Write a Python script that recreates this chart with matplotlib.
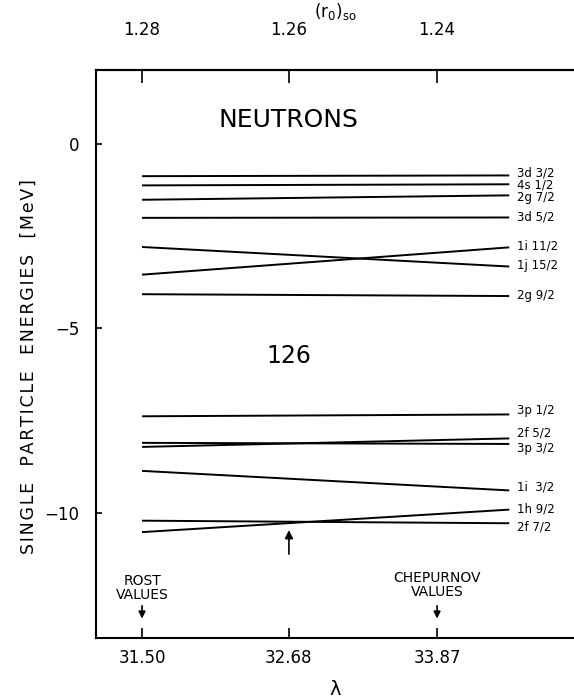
import matplotlib
matplotlib.use("Agg")
import matplotlib.pyplot as plt

# lambda axis (bottom) and matching (r0)so values (top)
lam_ticks = [31.50, 32.68, 33.87]
lam_labels = ['31.50', '32.68', '33.87']
r0_labels = ['1.28', '1.26', '1.24']

# level energies (MeV) at the left (lambda = 31.50) and right end of each line
levels = ['3d 3/2', '4s 1/2', '2g 7/2', '3d 5/2', '1i 11/2', '1j 15/2', '2g 9/2',
          '3p 1/2', '2f 5/2', '3p 3/2', '1i  3/2', '1h 9/2', '2f 7/2']
e_left = [-0.88, -1.13, -1.52, -2.01, -3.55, -2.80, -4.08,
          -7.39, -8.22, -8.11, -8.87, -10.53, -10.22]
e_right = [-0.86, -1.10, -1.40, -2.00, -2.81, -3.33, -4.13,
           -7.34, -7.99, -8.14, -9.40, -9.92, -10.29]
# where the right-hand labels sit (MeV)
e_label = [-0.80, -1.13, -1.46, -2.00, -2.76, -3.30, -4.12,
           -7.24, -7.83, -8.27, -9.30, -9.90, -10.38]

lam_start = 31.50
lam_end = 34.45

fig = plt.figure(figsize=(5.74, 6.98), dpi=100)
ax = fig.add_axes([0.1672, 0.086, 0.8328, 0.8138])

for name, a, b, el in zip(levels, e_left, e_right, e_label):
    ax.plot([lam_start, lam_end], [a, b], color='black', lw=1.4, solid_capstyle='butt')
    ax.text(lam_end + 0.06, el, name, fontsize=8.5, va='center', ha='left')

ax.set_xlim(31.13, 34.97)
ax.set_ylim(-13.4, 2.0)

ax.set_xticks(lam_ticks)
ax.set_xticklabels(lam_labels, fontsize=12)
ax.set_yticks([0, -5, -10])
ax.set_yticklabels(['0', '\u22125', '\u221210'], fontsize=12)
ax.tick_params(direction='in', length=7, width=1.2, pad=8)
ax.tick_params(axis='y', length=4, pad=12)
ax.spines['right'].set_visible(False)
for s in ['left', 'top', 'bottom']:
    ax.spines[s].set_linewidth(1.5)

top = ax.secondary_xaxis('top')
top.set_xticks(lam_ticks)
top.set_xticklabels(r0_labels, fontsize=12)
top.tick_params(direction='in', length=9, width=1.2, pad=22)
top.spines['top'].set_linewidth(1.5)
top.set_xlabel(r'(r$_{0}$)$_{\rm so}$', fontsize=12, labelpad=3)

ax.set_xlabel('\u03bb', fontsize=14, labelpad=9)
ylab = 'SINGLE  PARTICLE  ENERGIES  [MeV]'
ax.set_ylabel('\u200a'.join(ylab), fontsize=12.5)
ax.yaxis.set_label_coords(-0.122, 0.477)

ax.text(32.68, 0.65, 'NEUTRONS', fontsize=18, ha='center', va='center')
ax.text(32.68, -5.75, '126', fontsize=17, ha='center', va='center')

# arrows and annotations
ax.annotate('', xy=(32.68, -10.4), xytext=(32.68, -11.2),
            arrowprops=dict(arrowstyle='-|>', color='black', lw=1.2, mutation_scale=12))
ax.text(31.50, -12.05, 'ROST\nVALUES', fontsize=10, ha='center', va='center', linespacing=1.0)
ax.annotate('', xy=(31.50, -12.95), xytext=(31.50, -12.45),
            arrowprops=dict(arrowstyle='-|>', color='black', lw=1.2, mutation_scale=10))
ax.text(33.87, -11.97, 'CHEPURNOV\nVALUES', fontsize=10, ha='center', va='center', linespacing=1.0)
ax.annotate('', xy=(33.87, -12.95), xytext=(33.87, -12.45),
            arrowprops=dict(arrowstyle='-|>', color='black', lw=1.2, mutation_scale=10))

fig.savefig('out.png', dpi=100)
